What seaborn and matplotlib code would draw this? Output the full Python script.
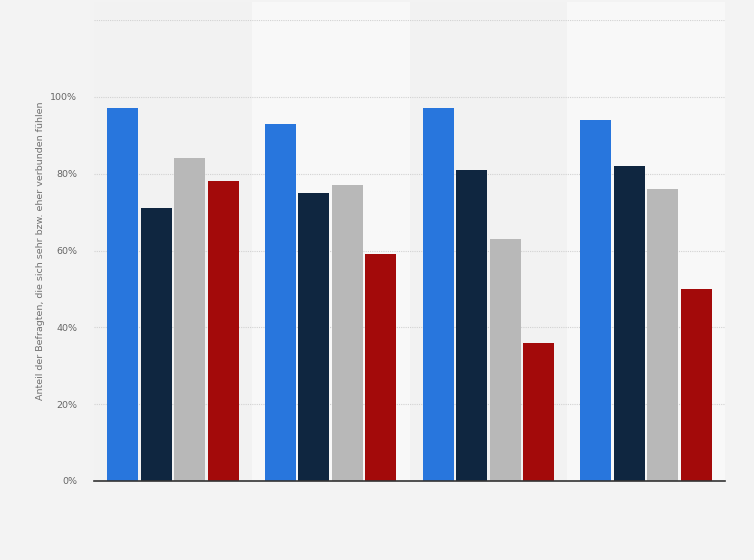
import matplotlib
matplotlib.use("Agg")
import matplotlib.pyplot as plt
import matplotlib.transforms as mtransforms
from matplotlib.patches import Rectangle
import seaborn as sns
import pandas as pd

# ---- data ----
groups = ["Gruppe 1", "Gruppe 2", "Gruppe 3", "Gruppe 4"]
series = ["Serie 1", "Serie 2", "Serie 3", "Serie 4"]
values_s1 = [97, 93, 97, 94]
values_s2 = [71, 75, 81, 82]
values_s3 = [84, 77, 63, 76]
values_s4 = [78, 59, 36, 50]
colors = ["#2876dd", "#0f2640", "#b8b8b8", "#a30a0a"]
ytick_values = [0, 20, 40, 60, 80, 100]
ytick_labels = ["0%", "20%", "40%", "60%", "80%", "100%"]
ylabel = "Anteil der Befragten, die sich sehr bzw. eher verbunden fühlen"

rows = []
for s, vals in zip(series, [values_s1, values_s2, values_s3, values_s4]):
    for g, v in zip(groups, vals):
        rows.append({"Gruppe": g, "Serie": s, "Wert": v})
df = pd.DataFrame(rows)

sns.set_theme(style="white")
plt.rcParams["font.family"] = ["DejaVu Sans"]

fig = plt.figure(figsize=(7.54, 5.6), dpi=100, facecolor="#f3f3f3")
ax = fig.add_axes([94/754, 79/560, 631/754, 461/560])
ax.set_facecolor("none")

sns.barplot(data=df, x="Gruppe", y="Wert", hue="Serie", order=groups,
            hue_order=series, palette=colors, width=0.85, gap=0.08,
            saturation=1, legend=False, ax=ax, zorder=3, errorbar=None,
            edgecolor="none", linewidth=0)

ax.set_xlim(-0.5, len(groups) - 0.5)
ax.set_ylim(0, 120)

# alternating background bands
trans = mtransforms.blended_transform_factory(ax.transData, fig.transFigure)
band_colors = ["#f2f2f2", "#f8f8f8"]
for i in range(len(groups)):
    r = Rectangle((i - 0.5, 79/560), 1.0, 1 - 79/560 - 2/560, transform=trans,
                  facecolor=band_colors[i % 2], edgecolor="none", zorder=0,
                  clip_on=False)
    ax.add_patch(r)

# grid lines
for y in [20, 40, 60, 80, 100, 120]:
    ax.axhline(y, color="#d2d2d2", linewidth=0.8, linestyle=(0, (1, 1)), zorder=1)

ax.set_yticks(ytick_values)
ax.set_yticklabels(ytick_labels, fontsize=6.8, color="#666666")
ax.tick_params(axis="y", length=0, pad=12)
ax.set_xticks(range(len(groups)))
ax.set_xticklabels([""] * len(groups))
ax.tick_params(axis="x", length=0)
ax.set_xlabel("")
ax.set_ylabel(ylabel, fontsize=6.8, color="#707070", labelpad=4)

for side in ["top", "right", "left"]:
    ax.spines[side].set_visible(False)
ax.spines["bottom"].set_color("#333333")
ax.spines["bottom"].set_linewidth(1.2)
ax.spines["bottom"].set_zorder(5)

fig.savefig("out.png", dpi=100, facecolor=fig.get_facecolor())
